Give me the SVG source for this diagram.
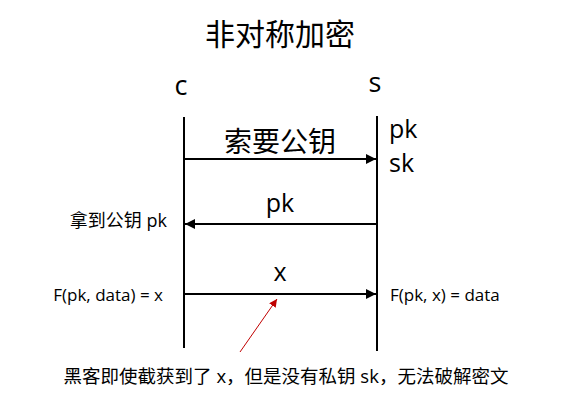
<svg xmlns="http://www.w3.org/2000/svg" width="562" height="405" viewBox="0 0 562 405">
<style>
text{font-family:"Open Sans","Noto Sans CJK SC",sans-serif;fill:#000}
.life{stroke:#000;stroke-width:2;fill:none}
.msg{stroke:#000;stroke-width:2;fill:none;marker-end:url(#ah)}
</style>
<defs>
<marker id="ah" viewBox="0 0 10 10" refX="10" refY="5" markerWidth="5" markerHeight="5" orient="auto" markerUnits="strokeWidth"><path d="M0,0 L10,5 L0,10 z" fill="#000"/></marker>
<marker id="rh" viewBox="0 0 10 10" refX="10" refY="5" markerWidth="8" markerHeight="8" orient="auto" markerUnits="strokeWidth"><path d="M0,0 L10,5 L0,10 z" fill="#c00000"/></marker>
</defs>
<rect width="562" height="405" fill="#fff"/>
<text x="280" y="45" font-size="30" text-anchor="middle">非对称加密</text>
<g id="c"><text x="181" y="95" font-size="27" text-anchor="middle">c</text><line class="life" x1="184" y1="117" x2="184" y2="348"/></g>
<g id="s"><text x="375" y="92" font-size="27" text-anchor="middle">s</text><line class="life" x1="377" y1="116" x2="377" y2="351"/>
<text x="389" y="138" font-size="25">pk</text><text x="389" y="172" font-size="25">sk</text></g>
<g id="connectors">
<line class="msg" x1="185" y1="159" x2="376" y2="159"/>
<line class="msg" x1="376" y1="224" x2="185" y2="224"/>
<line class="msg" x1="185" y1="294" x2="376" y2="294"/>
<line x1="240" y1="352" x2="277" y2="299" stroke="#c00000" stroke-width="1" marker-end="url(#rh)"/>
</g>
<text x="280" y="152" font-size="28" text-anchor="middle">索要公钥</text>
<text x="280" y="212" font-size="25" text-anchor="middle">pk</text>
<text x="280" y="281" font-size="25" text-anchor="middle">x</text>
<text x="167" y="227" font-size="18" text-anchor="end">拿到公钥 pk</text>
<text x="163" y="301" font-size="17" text-anchor="end">F(pk, data) = x</text>
<text x="390" y="301" font-size="17">F(pk, x) = data</text>
<text x="286" y="383" font-size="18.5" text-anchor="middle">黑客即使截获到了 x，但是没有私钥 sk，无法破解密文</text>
</svg>
